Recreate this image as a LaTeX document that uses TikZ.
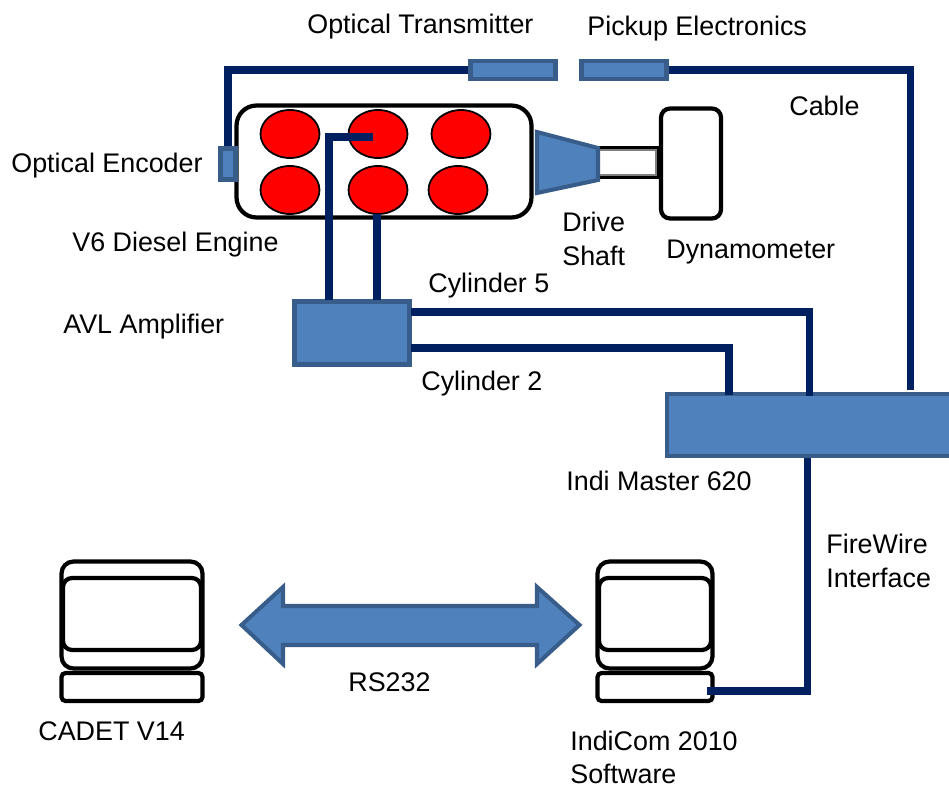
\documentclass[tikz,border=0pt]{standalone}
\usepackage{fontspec}
\setmainfont{Liberation Sans}
\tikzset{
  lbl/.style={anchor=base west,inner sep=0pt,font=\fontsize{15.3pt}{18pt}\selectfont},
  wire/.style={draw=wirecol,line width=4pt},
  block/.style={draw=blockedge,fill=blockfill,line width=2.3pt,inner sep=0pt},
  blackbox/.style={draw=black,line width=2.4pt,rounded corners=#1,fill=white,inner sep=0pt},
  cyl/.style={ellipse,draw=black,line width=1pt,fill=red,minimum width=1.18cm,minimum height=.96cm,inner sep=0pt}
}
\usetikzlibrary{shapes.geometric}
\definecolor{wirecol}{HTML}{002060}
\definecolor{blockedge}{HTML}{385D8A}
\definecolor{blockfill}{HTML}{4F81BD}
\begin{document}
\begin{tikzpicture}[x=.02cm,y=-.02cm]
\useasboundingbox (0,0) rectangle (949,787);
%engine
\node[blackbox=.4cm,minimum width=5.9cm,minimum height=2.24cm] (engine) at (384,161.5) {};
\node[cyl] (cyl1) at (290,134) {};
\node[cyl] (cyl2) at (378,134) {};
\node[cyl] (cyl3) at (461,134) {};
\node[cyl] (cyl4) at (290,190) {};
\node[cyl] (cyl5) at (378,190) {};
\node[cyl] (cyl6) at (458,190) {};
\node[block,minimum width=.3cm,minimum height=.62cm] (encoder) at (228,164) {};
%drive shaft and dynamometer
\node[fill=black,inner sep=0pt,minimum width=1.22cm,minimum height=.66cm] (shaft) at (628,162.5) {};
\node[draw=gray,fill=white,line width=.8pt,inner sep=0pt,minimum width=1.16cm,minimum height=.5cm] (shaftcore) at (627,162.5) {};
\node[blackbox=.18cm,minimum width=1.2cm,minimum height=2.2cm] (dyno) at (691,163.5) {};
\draw[block,line join=miter] (537,132) -- (598,148) -- (598,180) -- (537,193) -- cycle;
%pickup
\node[block,minimum width=1.7cm,minimum height=.36cm] (transmitter) at (513,70) {};
\node[block,minimum width=1.7cm,minimum height=.36cm] (pickup) at (624,70) {};
%amplifier and indimaster
\node[block,minimum width=2.3cm,minimum height=1.26cm] (amp) at (352,333) {};
\node[block,minimum width=6cm,minimum height=1.24cm] (indimaster) at (817,425) {};
%computers
\node[blackbox=.24cm,minimum width=2.82cm,minimum height=2.14cm] (cadetcase) at (132,615) {};
\node[blackbox=.18cm,minimum width=2.76cm,minimum height=1.44cm] (cadetscreen) at (132,614) {};
\node[blackbox=.08cm,minimum width=2.82cm,minimum height=.56cm] (cadetbase) at (132,687) {};
\node[blackbox=.24cm,minimum width=2.3cm,minimum height=2.14cm] (indicase) at (655,615) {};
\node[blackbox=.18cm,minimum width=2.24cm,minimum height=1.44cm] (indiscreen) at (655,614) {};
\node[blackbox=.08cm,minimum width=2.3cm,minimum height=.56cm] (indibase) at (655,687) {};
\draw[block,line join=miter] (241.5,625) -- (283,587) -- (283,606) -- (537,606) -- (537,587) -- (579.5,625) -- (537,664) -- (537,645) -- (283,645) -- (283,664) -- cycle;
%wires
\coordinate (cyl2pin) at (373,137);
\coordinate (cyl5pin) at (377,214);
\coordinate (amptop) at (329,300);
\coordinate (ampbot) at (377,300);
\coordinate (cableend) at (910,390);
\coordinate (cylfive) at (411,312);
\coordinate (cyltwo) at (411,348);
\coordinate (fivein) at (809,396);
\coordinate (twoin) at (729,395);
\coordinate (fwout) at (807,458);
\coordinate (fwin) at (707,691);
\draw[wire] (encoder.north) |- (transmitter.west);
\draw[wire] (pickup.east) -| (cableend);
\draw[wire] (cyl2pin) -| (amptop);
\draw[wire] (cyl5pin) -- (ampbot);
\draw[wire] (cylfive) -| (fivein);
\draw[wire] (cyltwo) -| (twoin);
\draw[wire] (fwout) |- (fwin);
%labels
\node[lbl] (ltrans) at (307,34) {Optical Transmitter};
\node[lbl] (lpick) at (587,36) {Pickup Electronics};
\node[lbl] (lcable) at (789,116) {Cable};
\node[lbl] (lenc) at (11,173) {Optical Encoder};
\node[lbl] (lv6) at (72,251) {V6 Diesel Engine};
\node[lbl] (ldrive) at (562,232) {Drive};
\node[lbl] (lshaft) at (562,265) {Shaft};
\node[lbl] (ldyno) at (666,258) {Dynamometer};
\node[lbl] (lcyl5) at (428,292) {Cylinder 5};
\node[lbl] (lamp) at (63,333) {AVL Amplifier};
\node[lbl] (lcyl2) at (421,390) {Cylinder 2};
\node[lbl] (lindi) at (566,490) {Indi Master 620};
\node[lbl] (lfire) at (826,553) {FireWire};
\node[lbl] (lface) at (826,587) {Interface};
\node[lbl] (lrs) at (348,691) {RS232};
\node[lbl] (lcadet) at (38,740) {CADET V14};
\node[lbl] (lcom) at (570,750) {IndiCom 2010};
\node[lbl] (lsoft) at (570,783) {Software};
\end{tikzpicture}
\end{document}
